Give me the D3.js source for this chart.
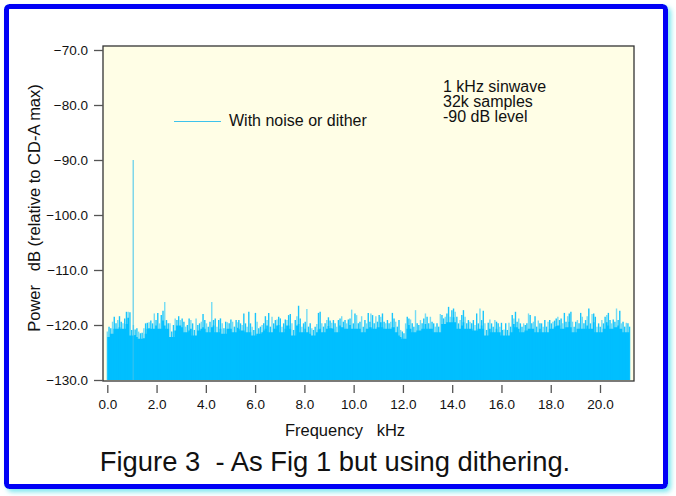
<!DOCTYPE html>
<html><head><meta charset="utf-8">
<script src="https://cdn.jsdelivr.net/npm/d3@7"></script>
<style>
html,body{margin:0;padding:0;background:#fff;}
svg{display:block;font-family:"Liberation Sans",Arial,Helvetica,sans-serif;}
</style></head>
<body>
<svg id="chart" width="676" height="496"></svg>
<script>
// ---------- data ----------
const yTicks = [-70, -80, -90, -100, -110, -120, -130];
const xTicks = [0, 2, 4, 6, 8, 10, 12, 14, 16, 18, 20];
const signalKHz = 1.05;
const signalDb = -90;
const floorDb = -130;
// noise spectrum (peak dB per display bin), four frequency segments
const segKHz = [[0, 5.30], [5.34, 10.66], [10.70, 16.0], [16.04, 21.2]];
const noiseA = [-121.2,-120.3,-120.6,-119.4,-118.5,-119.7,-119.1,-118.4,-119.4,-119.7,-118.8,-117.6,-117.6,-117.7,-120.9,-120.0,-120.8,-120.6,-121.2,-121.5,-121.4,-120.6,-119.7,-119.6,-119.5,-119.2,-119.7,-117.9,-119.1,-117.8,-119.7,-118.2,-117.4,-115.8,-119.1,-119.7,-119.7,-121.2,-120.0,-118.8,-119.1,-118.4,-119.1,-118.8,-119.4,-120.3,-120.0,-118.8,-119.1,-119.7,-120.9,-118.8,-120.0,-119.7,-119.4,-118.0,-119.1,-119.7,-120.3,-119.4,-115.8,-119.1,-118.8,-120.3,-119.1,-118.8,-119.7,-120.6,-119.4,-119.5,-119.7,-119.0,-119.4,-120.3,-119.1,-119.5];
const noiseB = [-119.1,-119.7,-120.0,-117.9,-119.7,-120.3,-117.6,-119.7,-120.3,-120.9,-117.8,-119.4,-120.6,-120.3,-120.0,-119.7,-118.4,-119.1,-117.8,-120.3,-118.5,-119.7,-119.1,-119.0,-118.5,-118.8,-120.3,-119.7,-119.0,-119.1,-118.2,-118.0,-119.7,-120.9,-119.1,-118.4,-116.5,-118.8,-120.3,-119.7,-119.4,-117.1,-120.3,-119.7,-120.6,-120.9,-120.3,-119.8,-117.8,-117.6,-119.7,-120.3,-119.7,-119.1,-118.6,-119.2,-119.6,-119.1,-119.7,-120.3,-119.1,-118.8,-118.4,-119.4,-119.1,-119.7,-119.0,-118.8,-117.2,-119.7,-117.9,-118.2,-119.7,-119.4,-118.4,-120.3,-119.1,-119.7,-117.8,-119.4];
const noiseC = [-117.9,-118.2,-119.7,-118.4,-119.4,-118.2,-118.5,-117.9,-119.4,-119.7,-119.1,-119.7,-119.4,-117.8,-118.8,-119.4,-120.3,-119.1,-120.9,-121.2,-121.5,-119.7,-118.5,-118.8,-119.0,-119.7,-120.3,-117.3,-119.7,-120.0,-119.1,-119.7,-118.8,-117.9,-118.5,-119.7,-118.5,-119.4,-119.7,-120.3,-119.7,-120.3,-118.0,-118.2,-118.8,-118.5,-117.9,-116.7,-118.5,-117.3,-117.0,-117.6,-118.5,-119.7,-119.1,-118.2,-117.3,-118.5,-119.7,-119.1,-119.4,-119.7,-119.1,-120.0,-117.9,-119.7,-117.0,-119.1,-117.4,-119.7,-120.9,-119.6,-119.0,-119.7,-120.3,-119.1,-119.4,-119.7,-120.3,-119.6];
const noiseD = [-120.9,-120.8,-119.7,-120.9,-119.6,-120.3,-118.2,-118.8,-117.6,-119.4,-118.8,-119.7,-120.3,-119.7,-120.0,-119.7,-117.9,-118.2,-119.7,-119.4,-118.4,-120.3,-119.2,-119.7,-119.7,-120.3,-119.1,-120.3,-119.4,-119.1,-119.7,-119.4,-119.2,-118.8,-118.5,-119.1,-118.8,-119.7,-117.8,-119.4,-118.4,-117.9,-117.6,-119.4,-120.3,-119.4,-119.1,-119.7,-117.8,-118.5,-119.7,-119.1,-118.4,-117.0,-119.7,-118.0,-117.9,-118.5,-120.3,-119.7,-120.3,-119.1,-119.7,-118.5,-118.2,-117.8,-119.1,-119.7,-119.0,-119.4,-117.0,-119.1,-117.4,-119.7,-119.4,-120.3,-119.6,-119.7,-120.3];
const legendLabel = "With noise or dither";
const noteLines = ["1 kHz sinwave", "32k samples", "-90 dB level"];
const xTitle = "Frequency   kHz";
const yTitle = "Power   dB (relative to CD-A max)";
const caption = "Figure 3  - As Fig 1 but using dithering.";

// ---------- build points ----------
const segs = [noiseA, noiseB, noiseC, noiseD];
const noise = [];
segs.forEach((arr, s) => {
  const [f0, f1] = segKHz[s];
  arr.forEach((v, i) => noise.push({f: f0 + (f1 - f0) * i / (arr.length - 1), v}));
});

// ---------- layout ----------
const svg = d3.select("#chart");
const defs = svg.append("defs");
const flt = defs.append("filter").attr("id","glow").attr("x","-5%").attr("y","-5%").attr("width","110%").attr("height","110%");
flt.append("feDropShadow").attr("dx",3).attr("dy",3).attr("stdDeviation",2.5).attr("flood-color","#6fe3ec").attr("flood-opacity",0.9);

// outer frame
svg.append("rect").attr("x",6.5).attr("y",6.5).attr("width",659).attr("height",480)
  .attr("rx",3).attr("fill","#fff").attr("stroke","#0606f6").attr("stroke-width",5)
  .attr("filter","url(#glow)");

const plot = {x0:103, x1:634, y0:46, y1:381};
const x = d3.scaleLinear().domain([0,20]).range([107.3,600]);
const y = d3.scaleLinear().domain([-130,-70]).range([380,50]);

svg.append("rect").attr("x",plot.x0).attr("y",plot.y0)
  .attr("width",plot.x1-plot.x0).attr("height",plot.y1-plot.y0)
  .attr("fill","#fffee6");

// noise body (lower envelope of neighbouring bins)
const body = noise.map((d,i) => {
  const a = noise[Math.max(0,i-1)].v, b = noise[Math.min(noise.length-1,i+1)].v;
  return {f:d.f, v: Math.min(a,d.v,b) - 1.0};
});
const area = d3.area().curve(d3.curveStep)
  .x(d => x(d.f)).y0(y(floorDb)).y1(d => y(d.v));
svg.append("path").datum(body).attr("d",area).attr("fill","#00bfff");

// noise spikes
svg.append("g").selectAll("line").data(noise).join("line")
  .attr("x1",d=>x(d.f)).attr("x2",d=>x(d.f))
  .attr("y1",y(floorDb)).attr("y2",d=>y(d.v))
  .attr("stroke","#00bfff").attr("stroke-width",1.4)
  .attr("stroke-opacity",(d,i)=> i % 3 === 0 ? 0.55 : 0.9);

// signal spike
svg.append("line").attr("x1",x(signalKHz)).attr("x2",x(signalKHz))
  .attr("y1",y(floorDb)).attr("y2",y(signalDb))
  .attr("stroke","#3ec3ec").attr("stroke-width",1);

// plot frame
svg.append("rect").attr("x",plot.x0).attr("y",plot.y0)
  .attr("width",plot.x1-plot.x0).attr("height",plot.y1-plot.y0)
  .attr("fill","none").attr("stroke","#333").attr("stroke-width",1.3);

// y axis
const yAxis = d3.axisLeft(y).tickValues(yTicks).tickSize(9).tickPadding(6)
  .tickFormat(d3.format(".1f"));
const gy = svg.append("g").attr("transform",`translate(${plot.x0},0)`).call(yAxis);
gy.select(".domain").remove();
gy.selectAll(".tick line").attr("stroke","#555").attr("stroke-width",1.3);
gy.selectAll(".tick text").attr("font-size","13.5px").attr("fill","#111")
  .attr("font-family","Liberation Sans, Arial, sans-serif");

// x axis
const xAxis = d3.axisBottom(x).tickValues(xTicks).tickSize(8).tickPadding(6)
  .tickFormat(d3.format(".1f"));
const gx = svg.append("g").attr("transform",`translate(0,385)`).call(xAxis);
gx.select(".domain").remove();
gx.selectAll(".tick line").attr("stroke","#555").attr("stroke-width",1.3);
gx.selectAll(".tick text").attr("font-size","13.5px").attr("fill","#111")
  .attr("font-family","Liberation Sans, Arial, sans-serif");

// titles
svg.append("text").attr("x",345).attr("y",436).attr("text-anchor","middle")
  .attr("font-size","16.5px").attr("fill","#111")
  .style("white-space","pre").text(xTitle);
svg.append("text").attr("transform","translate(40,208) rotate(-90)")
  .attr("text-anchor","middle").attr("font-size","16.5px").attr("fill","#111")
  .style("white-space","pre").text(yTitle);

// legend
svg.append("line").attr("x1",174).attr("x2",221).attr("y1",121.5).attr("y2",121.5)
  .attr("stroke","#3ec3ec").attr("stroke-width",1);
svg.append("text").attr("x",229).attr("y",125.5).attr("font-size","16px")
  .attr("fill","#111").text(legendLabel);

// note
svg.append("g").selectAll("text").data(noteLines).join("text")
  .attr("x",443).attr("y",(d,i)=>92+i*15).attr("font-size","16px")
  .attr("fill","#111").text(d=>d);

// caption
svg.append("text").attr("x",335).attr("y",471).attr("text-anchor","middle")
  .attr("font-size","27.4px").attr("fill","#111").style("white-space","pre").text(caption);
</script>
</body></html>
